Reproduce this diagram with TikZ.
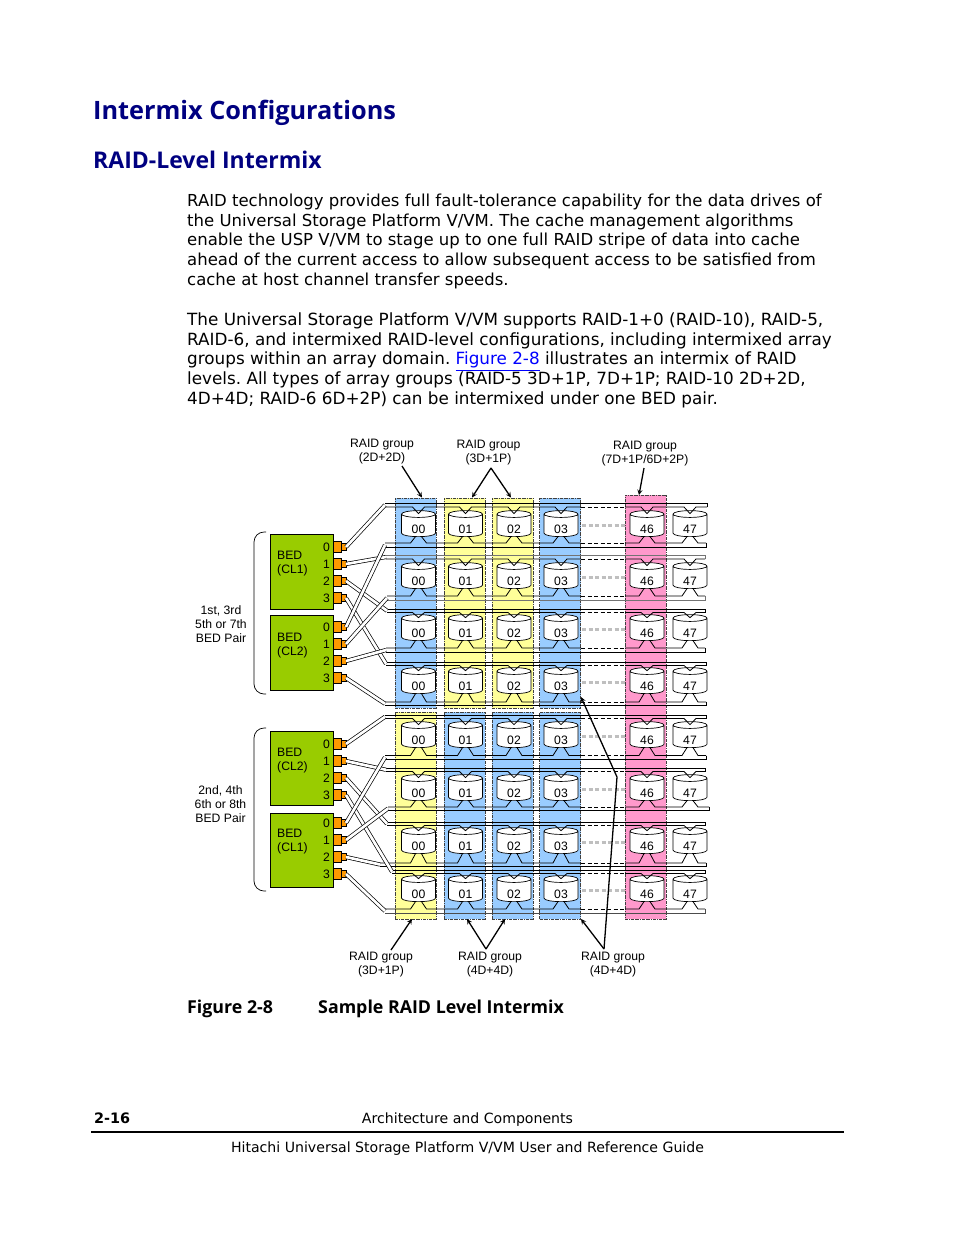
\documentclass[tikz,border=0pt]{standalone}
\usepackage{fontspec}
\setmainfont{DejaVu Sans}
\newfontfamily\diagfont{Liberation Sans}
\newfontfamily\headfont{Open Sans}
\usetikzlibrary{positioning,shapes.geometric}
\definecolor{headblue}{HTML}{000080}
\definecolor{groupblue}{HTML}{99CCFF}
\definecolor{groupyellow}{HTML}{FFFF99}
\definecolor{grouppink}{HTML}{FF99CC}
\definecolor{bedgreen}{HTML}{99CC00}
\definecolor{portorange}{HTML}{FF9900}
\begin{document}
\begin{tikzpicture}[
    x=1pt, y=-1pt,
    para/.style={anchor=north west, inner sep=0, align=left, font=\frenchspacing\fontsize{16.5}{19.85}\selectfont},
    title/.style={anchor=west, inner sep=0, text=headblue, font=\headfont\bfseries\fontsize{25.3}{30}\selectfont},
    capt/.style={anchor=west, inner sep=0, font=\headfont\bfseries\fontsize{17.8}{20}\selectfont},
    foot/.style={inner sep=0, font=\fontsize{14.1}{17}\selectfont},
    lbl/.style={inner sep=0, align=center, font=\diagfont\fontsize{12.2}{14}\selectfont},
    group/.style={rectangle, draw=black!75, line width=0.6, densely dashdotted, minimum width=41, inner sep=0, outer sep=0},
    disk/.style={cylinder, shape border rotate=90, aspect=0.5, draw, fill=white, line width=0.7, minimum width=34, minimum height=26, inner sep=0, outer sep=0, font=\diagfont\fontsize{12.2}{14}\selectfont},
    bed/.style={rectangle, draw, fill=bedgreen, line width=0.7, minimum width=63, inner sep=0, outer sep=0},
    portbig/.style={rectangle, draw, fill=portorange, line width=0.5, minimum width=8, minimum height=11, inner sep=0, outer sep=0},
    portsmall/.style={rectangle, draw, fill=portorange, line width=0.5, minimum width=5, minimum height=7, inner sep=0, outer sep=0},
    wire/.style={double, double distance=2.7, line width=0.7},
    busline/.style={line width=0.8, line join=miter},
    gapline/.style={line width=0.8, dash pattern=on 4pt off 2.5pt},
    link/.style={line width=3, draw=black!25, dash pattern=on 4pt off 2.5pt, shorten <=4pt, shorten >=5pt},
    arrow/.style={->, >=stealth, line width=1.3},
    brace/.style={line width=0.7, rounded corners=10}
]
    \useasboundingbox (0,0) rectangle (954,1235);

    % page text
    \node[title] (head1) at (93,112.5) {Intermix Configurations};
    \node[title, font=\headfont\bfseries\fontsize{23}{27}\selectfont] (head2) at (93,160) {RAID-Level Intermix};
    \node[para] (para1) at (187,193.5) {RAID technology provides full fault-tolerance capability for the data drives of\\
        the Universal Storage Platform V/VM. The cache management algorithms\\
        enable the USP V/VM to stage up to one full RAID stripe of data into cache\\
        ahead of the current access to allow subsequent access to be satisfied from\\
        cache at host channel transfer speeds.};
    \node[para, font=\frenchspacing\fontsize{16.8}{19.75}\selectfont] (para2) at (187,312.5) {The Universal Storage Platform V/VM supports RAID-1+0 (RAID-10), RAID-5,\\
        RAID-6, and intermixed RAID-level configurations, including intermixed array\\
        groups within an array domain. \textcolor{blue}{\underline{Figure 2-8}} illustrates an intermix of RAID\\
        levels. All types of array groups (RAID-5 3D+1P, 7D+1P; RAID-10 2D+2D,\\
        4D+4D; RAID-6 6D+2P) can be intermixed under one BED pair.};

    % array groups
    \foreach \g/\x/\y/\h/\c in {a/415.5/603/210/groupblue, b/464.5/603/210/groupyellow, c/512.5/603/210/groupyellow, d/560/603/210/groupblue,
        e/415.5/815.5/207/groupyellow, f/464.5/815.5/207/groupblue, g/512.5/815.5/207/groupblue, h/560/815.5/207/groupblue, p/645.5/707/424/grouppink}
        \node[group, fill=\c, minimum height=\h] (grp-\g) at (\x,\y) {};

    % disks
    \foreach \r/\y in {1/529,2/581,3/633,4/686,5/740,6/793,7/846,8/894} {
        \foreach \c/\x in {00/418.5,01/465.5,02/514,03/561,46/647,47/690}
            \node[disk] (d-\r-\c) at (\x,\y-3.5) {\smash{\raisebox{-7.8pt}{\c}}};
        \draw[link] (d-\r-03.east) -- (d-\r-46.west);
    }

    % upper bus of each row
    \foreach \r/\xs/\ya/\yb/\xe/\c in {1/385/503/507/707/black, 2/386/555/559/705/black!55, 3/387/609/612.5/705/black, 4/386/662/665.5/706/black,
        5/385/715/718.5/706/black, 6/386/768/771.5/705/black, 7/387/822/825.5/705/black, 8/392/870/873.5/705/black} {
        \coordinate (bus-\r t) at (\xs,{(\ya+\yb)/2});
        \draw[busline, draw=\c] (\xs,\ya) -- (\xe,\ya) -- (\xe,\yb);
        \draw[busline] (\xs,\yb) foreach \k/\x in {00/418.5,01/465.5,02/514,03/561} {-- (\x-6,\yb) -- ([yshift=-3pt]d-\r-\k.north) -- (\x+6,\yb)} -- (581,\yb);
        \draw[gapline] (581,\yb) -- (625,\yb);
        \draw[busline] (625,\yb) foreach \k/\x in {46/647,47/690} {-- (\x-6,\yb) -- ([yshift=-3pt]d-\r-\k.north) -- (\x+6,\yb)} -- (\xe,\yb);
    }

    % lower bus of each row
    \foreach \r/\xs/\ya/\yb/\xe/\c in {1/385/543/547/706/black, 2/387/596/600/705/black!55, 3/386/648/652/705/black, 4/385/702/705.5/706/black,
        5/385/755.5/759/706/black, 6/388/807/810/709/black, 7/380/863/866/706/black, 8/385/909/913/705/black!70} {
        \coordinate (bus-\r b) at (\xs,{(\ya+\yb)/2});
        \draw[busline, draw=\c] (\xs,\yb) -- (\xe,\yb) -- (\xe,\ya);
        \draw[busline] (\xs,\ya) foreach \k/\x in {00/418.5,01/465.5,02/514,03/561} {-- (\x-8,\ya) -- ([xshift=-3pt]d-\r-\k.south) ([xshift=3pt]d-\r-\k.south) -- (\x+8,\ya)} -- (581,\ya);
        \draw[gapline] (581,\ya) -- (625,\ya);
        \draw[busline] (625,\ya) foreach \k/\x in {46/647,47/690} {-- (\x-8,\ya) -- ([xshift=-3pt]d-\r-\k.south) ([xshift=3pt]d-\r-\k.south) -- (\x+8,\ya)} -- (\xe,\ya);
    }

    % BED boards and ports
    \foreach \b/\y/\h/\t/\yt/\ypa/\ypb/\ypc/\ypd in {1/571.5/75/CL1/564/547/564/581/598, 2/652.5/75/CL2/646/627/644/661/678,
        3/768/74/CL2/761/744/761/778/795, 4/850/74/CL1/842/823/840/857/874} {
        \node[bed, minimum height=\h] (bed-\b) at (301.5,\y) {};
        \node[lbl, anchor=west, align=left] (bedname-\b) at (277,\yt) {BED\\(\t)};
        \foreach \p/\yp in {0/\ypa,1/\ypb,2/\ypc,3/\ypd} {
            \node[portbig] (pa-\b-\p) at (337,\yp) {};
            \node[portsmall, right=0pt of pa-\b-\p] (pb-\b-\p) {};
            \node[lbl, left=3pt of pa-\b-\p] (num-\b-\p) {\p};
        }
    }

    % cables from ports to buses
    \foreach \p/\q in {1-0/1t,1-1/2t,1-2/3t,1-3/4t,2-0/1b,2-1/2b,2-2/3b,2-3/4b,
        3-0/5t,3-1/6t,3-2/7t,3-3/8t,4-0/5b,4-1/6b,4-2/7b,4-3/8b}
        \draw[wire] (pb-\p.east) -- (bus-\q);

    % braces and pair labels
    \coordinate (br1a) at (266,532);
    \coordinate (br1b) at (266,694);
    \coordinate (br2a) at (266,728);
    \coordinate (br2b) at (266,891);
    \draw[brace] (br1a) -- (254,532) -- (254,694) -- (br1b);
    \draw[brace] (br2a) -- (254,728) -- (254,891) -- (br2b);
    \node[lbl] (pair1) at (221,624) {1st, 3rd\\5th or 7th\\BED Pair};
    \node[lbl] (pair2) at (220.5,804) {2nd, 4th\\6th or 8th\\BED Pair};

    % RAID group labels and arrows
    \node[lbl] (top2d) at (382,452) {RAID group\\(2D+2D)};
    \node[lbl] (top3d) at (488.5,453) {RAID group\\(3D+1P)};
    \node[lbl] (top7d) at (645,454) {RAID group\\(7D+1P/6D+2P)};
    \node[lbl] (low3d) at (381,965) {RAID group\\(3D+1P)};
    \node[lbl] (low4a) at (490,965) {RAID group\\(4D+4D)};
    \node[lbl] (low4b) at (613,965) {RAID group\\(4D+4D)};
    \coordinate (from2d) at (402,466);
    \coordinate (from3d) at (491,468);
    \coordinate (from7d) at (644,468);
    \coordinate (from3b) at (391,950);
    \coordinate (from4a) at (486,949);
    \coordinate (from4b) at (604,949);
    \coordinate (bend4b) at (617,777);
    \draw[arrow] (from2d) -- (422,497.5);
    \draw[arrow] (from3d) -- (472,497.5);
    \draw[arrow] (from3d) -- (511,497.5);
    \draw[arrow] (from7d) -- (639,495);
    \draw[arrow] (from3b) -- (412,919);
    \draw[arrow] (from4a) -- (467,919);
    \draw[arrow] (from4a) -- (505,919);
    \draw[arrow] (from4b) -- (581,919);
    \draw[arrow] (from4b) -- (bend4b) -- (581,697);

    % caption and footer
    \node[capt] (figno) at (187,1009) {Figure 2-8};
    \node[capt] (figname) at (318,1009) {Sample RAID Level Intermix};
    \node[foot, anchor=west, font=\bfseries\fontsize{14.4}{17}\selectfont] (pageno) at (94,1118) {2-16};
    \node[foot] (chapter) at (467.5,1120) {Architecture and Components};
    \node[foot] (guide) at (467.5,1149) {Hitachi Universal Storage Platform V/VM User and Reference Guide};
    \coordinate (rulea) at (91,1132);
    \coordinate (ruleb) at (844,1132);
    \draw[line width=1.6] (rulea) -- (ruleb);
\end{tikzpicture}
\end{document}
